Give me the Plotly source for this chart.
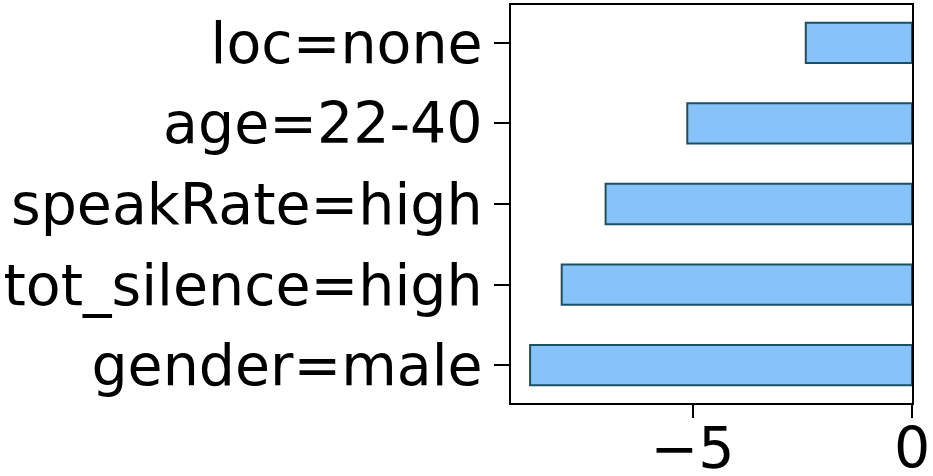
import plotly.graph_objects as go

categories = ["gender=male", "tot_silence=high", "speakRate=high", "age=22-40", "loc=none"]
values = [-8.70, -7.98, -6.98, -5.12, -2.42]
tick_vals = [-5, 0]
tick_text = ["\u22125", "0"]

fig = go.Figure()
fig.add_trace(go.Bar(
    x=values, y=categories, orientation="h", width=0.5,
    marker=dict(color="#87C3F8", line=dict(color="#1B4F63", width=2)),
))
fig.update_layout(
    width=933, height=476,
    margin=dict(l=511, r=21, t=5, b=73, autoexpand=False),
    plot_bgcolor="white", paper_bgcolor="white",
    showlegend=False,
    font=dict(family="DejaVu Sans", size=57, color="black"),
)
fig.update_xaxes(
    range=[-9.135, 0], tickvals=tick_vals, ticktext=tick_text, automargin=False,
    showgrid=False, zeroline=False, showline=True, linecolor="black", linewidth=2,
    mirror=True, ticks="outside", ticklen=13, tickwidth=2, tickcolor="black",
    ticklabelstandoff=-18,
)
fig.update_yaxes(
    categoryorder="array", categoryarray=categories, range=[-0.47, 4.47], automargin=False,
    showgrid=False, zeroline=False, showline=True, linecolor="black", linewidth=2,
    mirror=True, ticks="outside", ticklen=15, tickwidth=2, tickcolor="black",
    ticklabelstandoff=0,
)
fig.write_html("out.html", config={"displayModeBar": False},
               post_script="document.body.style.margin='0';document.body.style.overflow='hidden';")
